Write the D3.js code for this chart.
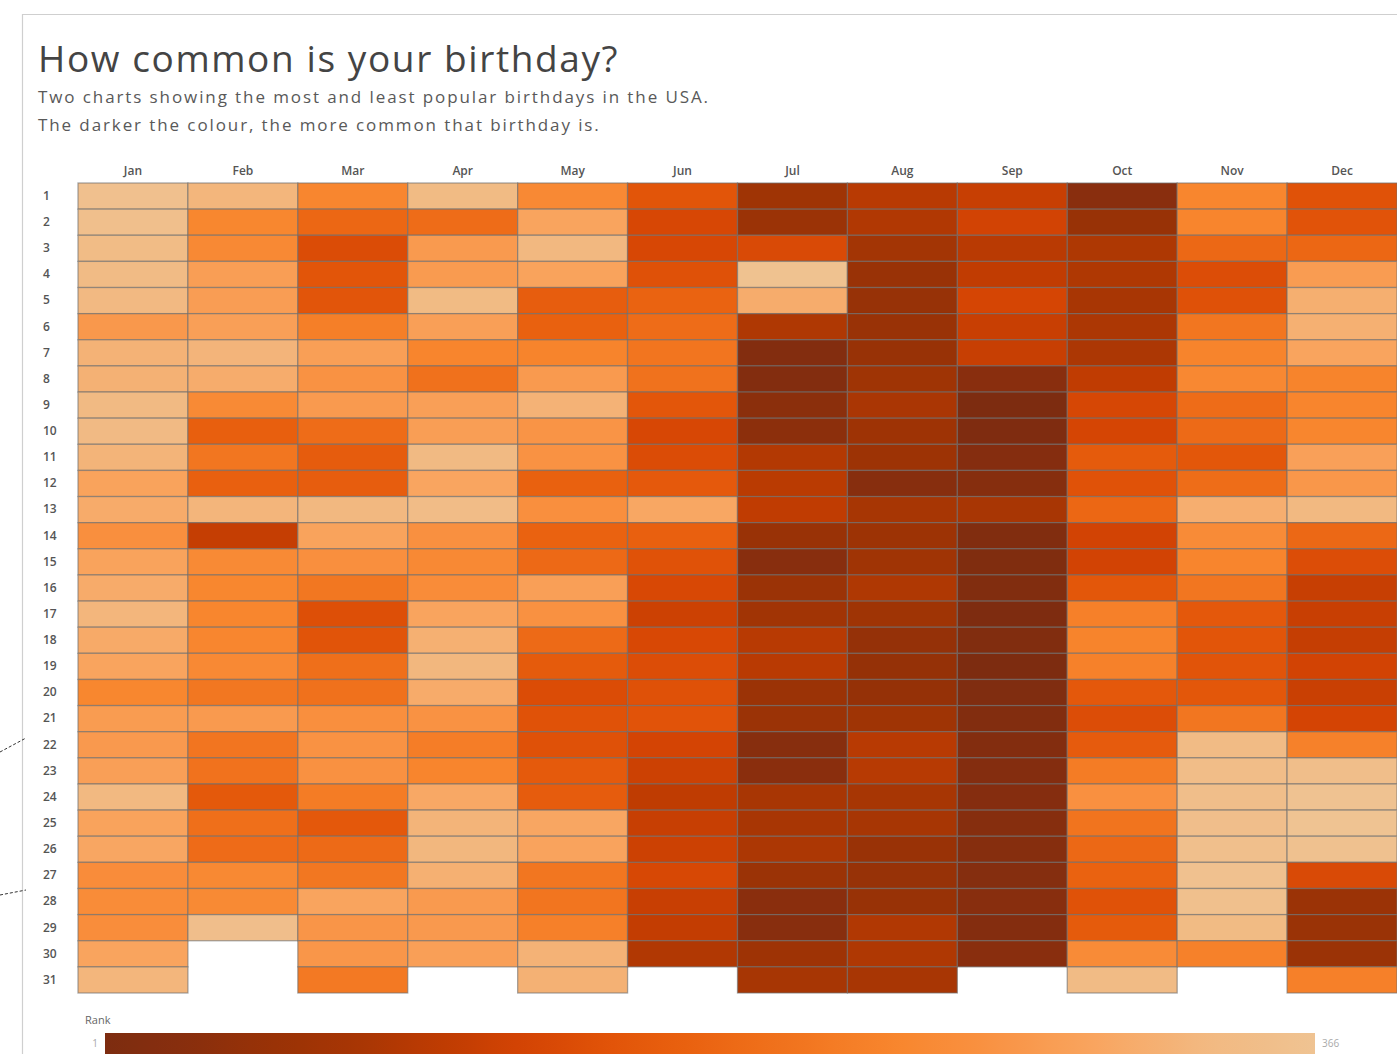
<!DOCTYPE html>
<html>
<head>
<meta charset="utf-8">
<script src="https://cdn.jsdelivr.net/npm/d3@7"></script>
<style>
  html, body { margin: 0; padding: 0; background: #fff; }
  svg { display: block; font-family: "Open Sans", "DejaVu Sans", sans-serif; }
</style>
</head>
<body>
<script>
// birthday rank per day (1 = most common, 366 = least common)
const months = ["Jan", "Feb", "Mar", "Apr", "May", "Jun", "Jul", "Aug", "Sep", "Oct", "Nov", "Dec"];
const days = d3.range(1, 32).map(String);

const janRank = [358, 355, 344, 342, 335, 278, 322, 320, 338, 339, 325, 296, 310, 262, 296, 310, 328, 308, 298, 242, 284, 280, 290, 334, 296, 302, 256, 254, 258, 298, 328];
const febRank = [328, 242, 248, 288, 287, 290, 326, 312, 250, 172, 212, 174, 327, 110, 250, 242, 240, 241, 248, 214, 282, 211, 206, 162, 200, 194, 247, 249, 352];
const marRank = [241, 186, 140, 155, 156, 228, 289, 268, 282, 195, 168, 170, 332, 296, 262, 214, 145, 153, 200, 204, 262, 268, 266, 222, 160, 192, 213, 298, 274, 275, 218];
const aprRank = [340, 195, 282, 283, 340, 290, 238, 203, 290, 288, 338, 300, 345, 265, 248, 255, 298, 318, 330, 310, 268, 225, 238, 305, 325, 330, 318, 282, 280, 290];
const mayRank = [248, 298, 332, 296, 170, 176, 236, 282, 322, 272, 268, 176, 262, 178, 190, 290, 266, 192, 165, 140, 150, 149, 164, 168, 302, 297, 212, 210, 230, 322, 320];
const junRank = [155, 133, 133, 148, 180, 195, 210, 205, 157, 133, 140, 163, 303, 175, 150, 135, 118, 135, 142, 148, 152, 128, 118, 103, 112, 118, 134, 113, 108, 88];
const julRank = [62, 55, 138, 362, 312, 86, 15, 14, 30, 32, 90, 98, 104, 52, 24, 55, 65, 95, 96, 55, 56, 22, 28, 78, 78, 82, 55, 28, 24, 60, 76];
const augRank = [95, 88, 70, 52, 48, 52, 50, 62, 80, 60, 58, 22, 76, 58, 64, 86, 62, 45, 46, 46, 62, 95, 94, 76, 76, 52, 48, 50, 88, 86, 78];
const sepRank = [112, 125, 96, 105, 130, 114, 112, 26, 1, 6, 18, 20, 78, 10, 8, 9, 4, 10, 2, 7, 12, 13, 16, 18, 20, 21, 19, 24, 17, 26];
const octRank = [26, 50, 85, 86, 78, 82, 82, 104, 132, 130, 165, 150, 186, 125, 126, 158, 230, 236, 232, 160, 142, 166, 222, 265, 208, 188, 178, 150, 165, 252, 342];
const novRank = [240, 238, 188, 142, 148, 212, 236, 246, 195, 192, 158, 196, 315, 252, 238, 212, 160, 155, 154, 158, 212, 342, 348, 350, 352, 354, 360, 356, 340, 232];
const decRank = [150, 152, 186, 285, 316, 318, 298, 236, 238, 240, 292, 276, 334, 188, 142, 112, 114, 110, 126, 115, 128, 232, 350, 364, 366, 361, 138, 55, 54, 56, 230];

const monthRanks = [janRank, febRank, marRank, aprRank, mayRank, junRank,
                    julRank, augRank, sepRank, octRank, novRank, decRank];

const cells = [];
monthRanks.forEach((ranks, m) => {
    ranks.forEach((rank, i) => {
        cells.push({ month: months[m], day: days[i], rank: rank });
    });
});

const width = 1397;
const height = 1054;

const svg = d3.select("body").append("svg")
    .attr("width", width)
    .attr("height", height);

// frame of the dashboard (cropped on the right and bottom)
svg.append("path")
    .attr("d", `M22.5,${height} V14.5 H${width}`)
    .attr("fill", "none")
    .attr("stroke", "#cfcfcf")
    .attr("stroke-width", 1.2);

// bits of annotation lines coming in from the left
svg.append("path")
    .attr("d", "M0,752 L26,738")
    .attr("stroke", "#333").attr("stroke-width", 1).attr("stroke-dasharray", "3,2");
svg.append("path")
    .attr("d", "M0,895 L26,890")
    .attr("stroke", "#333").attr("stroke-width", 1).attr("stroke-dasharray", "3,2");

// titles
svg.append("text")
    .attr("x", 38).attr("y", 72)
    .attr("fill", "#444")
    .style("font-size", "37px")
    .style("letter-spacing", "1.6px")
    .text("How common is your birthday?");

svg.append("text")
    .attr("x", 38).attr("y", 103)
    .attr("fill", "#595959")
    .style("font-size", "17px")
    .style("letter-spacing", "1.9px")
    .text("Two charts showing the most and least popular birthdays in the USA.");

svg.append("text")
    .attr("x", 38).attr("y", 131)
    .attr("fill", "#595959")
    .style("font-size", "17px")
    .style("letter-spacing", "1.9px")
    .text("The darker the colour, the more common that birthday is.");

// scales
const x = d3.scaleBand().domain(months).range([78, 1397]);
const y = d3.scaleBand().domain(days).range([183, 993]);

const color = d3.scaleLinear()
    .domain([1, 25, 50, 78, 104, 128, 150, 178, 212, 240, 265, 298, 332, 366])
    .range(["#7d2c10", "#882e0e", "#983206", "#a83604", "#c03c02", "#d44404", "#e05208",
            "#ea6210", "#f27620", "#f8862e", "#f99040", "#f9a45e", "#f2b880", "#efc392"])
    .interpolate(d3.interpolateRgb)
    .clamp(true);

// cells
svg.append("g")
    .selectAll("rect")
    .data(cells)
    .join("rect")
    .attr("x", d => x(d.month))
    .attr("y", d => y(d.day))
    .attr("width", x.bandwidth())
    .attr("height", y.bandwidth())
    .attr("fill", d => color(d.rank))
    .attr("stroke", "rgba(110,110,110,0.6)")
    .attr("stroke-width", 1.3);

// month labels on top
const xAxis = svg.append("g")
    .attr("transform", "translate(0,175)")
    .call(d3.axisTop(x).tickSize(0).tickPadding(0));
xAxis.select(".domain").remove();
xAxis.selectAll("text")
    .attr("fill", "#555")
    .style("font-size", "12px")
    .style("font-weight", "600")
    .style("font-family", "'Open Sans', sans-serif");

// day labels on the left
const yAxis = svg.append("g")
    .attr("transform", "translate(43,0)")
    .call(d3.axisLeft(y).tickSize(0).tickPadding(0));
yAxis.select(".domain").remove();
yAxis.selectAll("text")
    .attr("x", 0)
    .attr("text-anchor", "start")
    .attr("fill", "#555")
    .style("font-size", "12px")
    .style("font-weight", "600")
    .style("font-family", "'Open Sans', sans-serif");

// legend
const legendX = d3.scaleLinear().domain([1, 366]).range([105, 1315]);

const grad = svg.append("defs").append("linearGradient")
    .attr("id", "rankGrad")
    .attr("x1", "0%").attr("x2", "100%");
grad.selectAll("stop")
    .data(d3.range(0, 1.0001, 0.02))
    .join("stop")
    .attr("offset", t => (t * 100) + "%")
    .attr("stop-color", t => color(1 + t * 365));

svg.append("text")
    .attr("x", 85).attr("y", 1024)
    .attr("fill", "#666")
    .style("font-size", "11px")
    .text("Rank");

svg.append("rect")
    .attr("x", legendX(1)).attr("y", 1033)
    .attr("width", legendX(366) - legendX(1))
    .attr("height", 21)
    .attr("fill", "url(#rankGrad)");

svg.append("text")
    .attr("x", legendX(1) - 7).attr("y", 1047)
    .attr("text-anchor", "end")
    .attr("fill", "#aaa")
    .style("font-size", "10px")
    .text("1");

svg.append("text")
    .attr("x", legendX(366) + 7).attr("y", 1047)
    .attr("fill", "#aaa")
    .style("font-size", "10px")
    .text("366");
</script>
</body>
</html>
